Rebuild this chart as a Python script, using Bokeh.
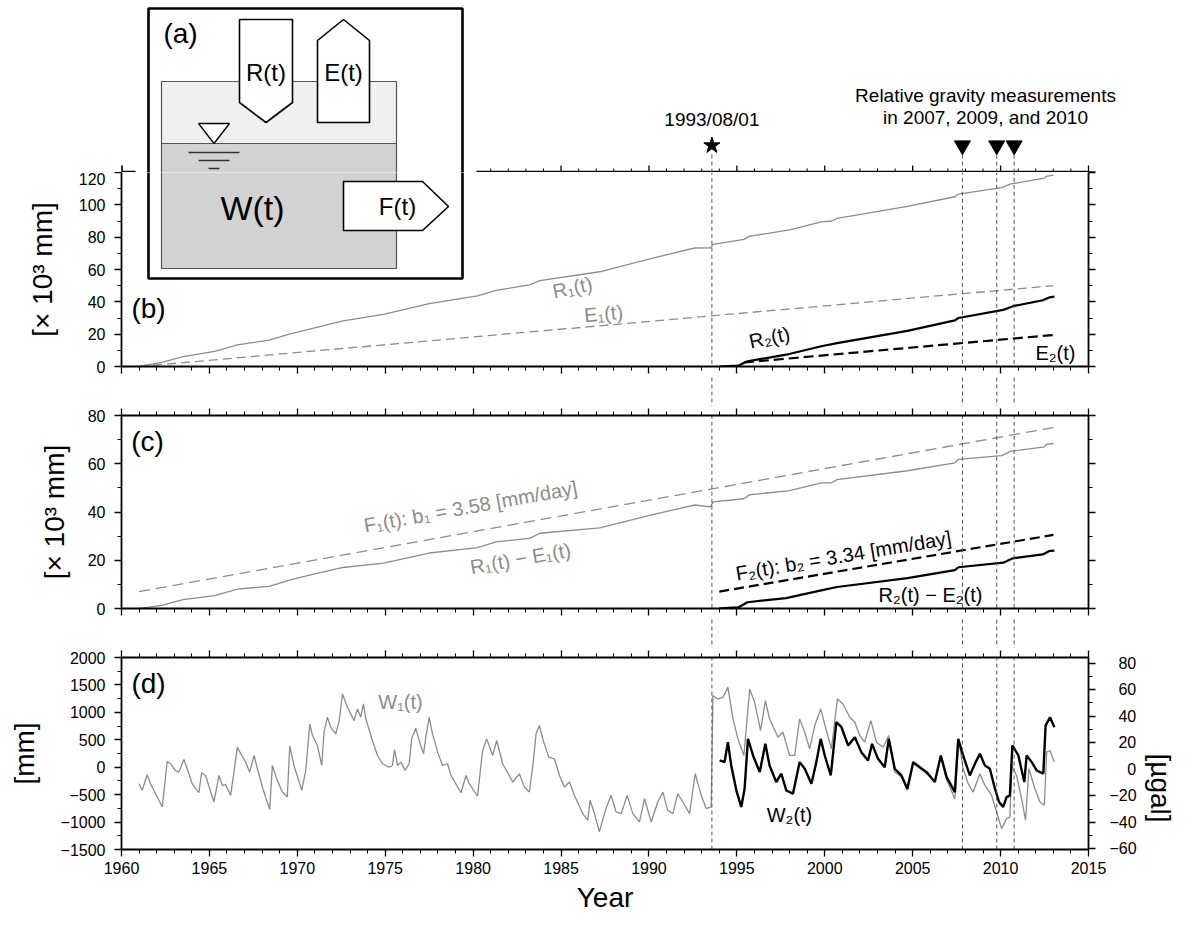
from bokeh.plotting import figure
from bokeh.layouts import column
from bokeh.models import (Range1d, LinearAxis, SingleIntervalTicker, Label,
                          CustomJSTickFormatter, BasicTickFormatter)
from bokeh.embed import file_html
from bokeh.resources import INLINE

# ------------------------------------------------------------------ data
# (b) cumulative rainfall R(t) and evapotranspiration E(t)  [x 10^3 mm]
r1_year = [1961.0, 1962.3, 1963.5, 1965.3, 1966.6, 1968.4, 1969.6, 1970.7, 1972.6, 1974.9,
           1977.5, 1980.25, 1981.3, 1983.2, 1983.8, 1987.2, 1990.1, 1992.6, 1993.5, 1993.65,
           1995.4, 1995.7, 1998.0, 1999.8, 2000.4, 2000.7, 2004.7, 2007.4, 2007.6, 2010.05,
           2010.6, 2012.5, 2012.6, 2013.0]
r1_val = [0, 2.6, 6.1, 9.4, 13.4, 16.3, 20.2, 23.1, 28.2, 32.2,
          38.9, 43.7, 47.1, 50.5, 53.1, 58.6, 66.7, 73.3, 73.4, 75.6,
          78.6, 80.5, 84.5, 89.4, 90.0, 91.6, 99.1, 105.0, 106.6, 110.6,
          112.9, 116.5, 117.6, 118.4]
e1_year = [1961.0, 2013.0]
e1_val = [0.0, 50.0]
r2_year = [1994.0, 1994.5, 1995.1, 1995.6, 1997.8, 1999.8, 2000.7, 2004.7, 2007.4, 2007.6,
           2010.15, 2010.7, 2012.4, 2012.8, 2013.06]
r2_val = [0, 0.3, 0.6, 3.2, 7.3, 12.5, 14.5, 22.0, 28.5, 30.0, 35.0, 37.3, 41.0, 42.8, 43.2]
e2_year = [1995.4, 2013.0]
e2_val = [2.5, 19.5]

# (c) R(t) - E(t) and fitted outflow F(t)  [x 10^3 mm]
re1_year = list(r1_year)
re1_val = [0, 1.3, 3.7, 5.3, 8.0, 9.2, 11.9, 13.8, 17.0, 18.8,
           23.0, 25.2, 27.6, 29.1, 31.2, 33.4, 38.7, 42.9, 42.1, 44.2,
           45.5, 47.1, 48.9, 52.1, 52.1, 53.4, 57.1, 60.4, 61.8, 63.4,
           65.2, 67.0, 68.0, 68.4]
f1_year = [1961.0, 2013.0]
f1_val = [7.0, 75.0]
re2_year = list(r2_year)
re2_val = [0, 0.3, 0.5, 2.6, 4.3, 7.5, 8.9, 12.6, 15.9, 17.1, 19.0, 20.8, 22.4, 23.9, 24.0]
f2_year = [1994.0, 2013.0]
f2_val = [7.0, 30.5]

# (d) storage W(t)  [mm]
w1_year = [1961.00, 1961.18, 1961.46, 1961.65, 1961.84, 1962.32, 1962.60, 1962.79, 1963.07, 1963.26,
           1963.55, 1963.74, 1964.02, 1964.40, 1964.56, 1964.78, 1965.26, 1965.54, 1965.73, 1965.92,
           1966.21, 1966.59, 1966.78, 1967.06, 1967.29, 1967.54, 1967.73, 1968.01, 1968.43, 1968.58,
           1968.86, 1969.15, 1969.43, 1969.57, 1969.81, 1970.25, 1970.48, 1970.71, 1970.86, 1971.14,
           1971.39, 1971.52, 1971.71, 1971.90, 1972.19, 1972.38, 1972.57, 1972.85, 1973.23, 1973.42,
           1973.61, 1973.76, 1973.90, 1974.27, 1974.56, 1974.85, 1975.22, 1975.41, 1975.53, 1975.70,
           1975.89, 1976.13, 1976.36, 1976.51, 1976.74, 1976.93, 1977.18, 1977.31, 1977.50, 1977.69,
           1977.98, 1978.26, 1978.55, 1978.74, 1979.12, 1979.31, 1979.59, 1979.78, 1980.25, 1980.54,
           1980.77, 1981.11, 1981.34, 1981.68, 1982.25, 1982.63, 1982.91, 1983.20, 1983.42, 1983.58,
           1983.77, 1983.96, 1984.30, 1984.62, 1984.91, 1985.19, 1985.48, 1985.76, 1986.23, 1986.52,
           1986.65, 1986.90, 1987.18, 1987.37, 1987.56, 1987.85, 1988.13, 1988.42, 1988.76, 1989.08,
           1989.46, 1989.75, 1990.13, 1990.50, 1990.79, 1991.07, 1991.36, 1991.64, 1991.93, 1992.31,
           1992.63, 1992.97, 1993.26, 1993.54, 1993.64, 1993.92, 1994.21, 1994.49, 1994.78, 1995.06,
           1995.40, 1995.73, 1996.01, 1996.35, 1996.62, 1996.86, 1997.34, 1997.62, 1998.00, 1998.29,
           1998.57, 1998.86, 1999.14, 1999.43, 1999.77, 2000.09, 2000.38, 2000.72, 2001.04, 2001.42,
           2001.71, 2001.99, 2002.27, 2002.62, 2002.94, 2003.32, 2003.64, 2003.98, 2004.36, 2004.70,
           2005.03, 2005.41, 2005.79, 2006.26, 2006.60, 2006.93, 2007.40, 2007.63, 2007.87, 2008.16,
           2008.44, 2008.82, 2009.11, 2009.49, 2009.77, 2010.06, 2010.34, 2010.53, 2010.63, 2010.91,
           2011.23, 2011.42, 2011.61, 2011.95, 2012.24, 2012.49, 2012.62, 2012.81, 2013.06]
w1_mm = [-300, -420, -137, -300, -420, -725, 105, 63, -60, -90,
         140, -28, -300, -465, -100, -150, -633, -150, -330, -318,
         -512, 366, 245, 93, -90, 214, -28, -360, -768, 32,
         -240, -452, -543, 384, 32, -420, -60, 790, 578, 396,
         32, 638, 911, 730, 608, 850, 1335, 1093, 850, 1062,
         911, 1153, 880, 487, 214, 63, 0, 32, 323, 32,
         93, -58, 63, 530, 711, 487, 245, 548, 911, 608,
         275, 32, 63, -150, -360, -465, -150, -300, -525, 305,
         517, 214, 487, 63, -270, -120, -360, -452, 93, 608,
         760, 517, 184, 154, -150, -360, -270, -512, -845, -966,
         -603, -845, -1180, -960, -750, -513, -816, -847, -513, -847,
         -998, -574, -998, -634, -453, -786, -847, -483, -634, -847,
         -119, -513, -756, -725, 1305, 1244, 1275, 1456, 881, 517,
         214, 1426, 1184, 669, 1214, 881, 547, 638, 214, 214,
         881, 638, 335, 759, 1062, 669, 335, 1244, 1153, 911,
         820, 578, 456, 850, 456, 365, 578, -89, -180, -420,
         60, -20, -120, -250, 180, -230, -574, 487, -28, -301,
         -453, -119, -331, -513, -816, -1119, -937, -907, 32, -150,
         -634, -968, -28, -392, -634, -695, 275, 305, 93]
w2_year = [1994.02, 1994.30, 1994.49, 1994.68, 1994.97, 1995.25, 1995.44, 1995.63, 1995.92, 1996.30,
           1996.62, 1996.86, 1997.24, 1997.53, 1997.81, 1998.19, 1998.57, 1998.86, 1999.24, 1999.52,
           1999.77, 2000.00, 2000.34, 2000.66, 2000.95, 2001.33, 2001.71, 2002.08, 2002.46, 2002.69,
           2003.03, 2003.41, 2003.64, 2003.98, 2004.36, 2004.70, 2005.03, 2005.41, 2005.79, 2006.26,
           2006.60, 2006.93, 2007.40, 2007.59, 2007.87, 2008.25, 2008.54, 2008.82, 2009.11, 2009.39,
           2009.68, 2009.91, 2010.15, 2010.34, 2010.53, 2010.67, 2011.01, 2011.35, 2011.48, 2011.77,
           2012.05, 2012.43, 2012.56, 2012.81, 2013.06]
w2_mm = [123, 93, 456, 32, -422, -725, -392, 517, 214, -89,
         426, 32, -271, -119, -422, -483, 93, -28, -301, 93,
         517, 214, -150, 820, 729, 396, 547, 275, 123, 426,
         153, 0, 517, -28, -150, -392, 93, 0, -89, -271,
         214, -180, -453, 517, 214, -150, 63, 244, 32, -28,
         -392, -634, -725, -544, -513, 396, 214, -271, 214, 93,
         -59, -119, 759, 911, 729]

# events
event_date = [1993.58]
event_text = ["1993/08/01"]
gravity_dates = [2007.83, 2009.78, 2010.77]
all_dates = event_date + gravity_dates

# ------------------------------------------------------------------ style
FONT = "Liberation Sans"
GRAY = "#8c8c8c"
DASH_C = "#555555"
FL, FR, PAGE_W = 121, 1088, 1192
XS = (FR - FL) / 55.0
X_START, X_END = 1960, 2015

blank = CustomJSTickFormatter(code="return '';")
minus_fmt = CustomJSTickFormatter(code=r"return (tick < 0 ? '\u2212' : '') + Math.abs(tick).toString();")
right_fmt = CustomJSTickFormatter(code=r"""
let s = (tick < 0 ? '\u2212' : '') + Math.abs(tick).toString();
while (s.length < 3) { s = '\u2007' + s; }
return s;""")


def xticker():
    return SingleIntervalTicker(interval=5, num_minor_ticks=5)


def style_axis(ax, show_labels, standoff=5):
    ax.axis_line_width = 1.8
    ax.axis_line_color = "black"
    ax.major_tick_line_width = 1.3
    ax.minor_tick_line_width = 1.0
    ax.major_tick_line_color = "black"
    ax.minor_tick_line_color = "black"
    ax.major_tick_out = 7
    ax.major_tick_in = 0
    ax.minor_tick_out = 4
    ax.minor_tick_in = 0
    ax.major_label_text_font = FONT
    ax.axis_label_text_font = FONT
    ax.axis_label_text_font_size = "28px"
    ax.axis_label_text_font_style = "normal"
    ax.axis_label_text_color = "black"
    if show_labels:
        ax.major_label_standoff = standoff
        ax.major_label_text_font_size = "16px"
        ax.major_label_text_color = "black"
    else:
        ax.major_label_standoff = 0
        ax.major_label_text_font_size = "1px"
        ax.major_label_text_color = None


def base_fig(fw, fh, xr, yr, bl, br, bt, bb):
    p = figure(frame_width=fw, frame_height=fh, x_range=xr, y_range=yr,
               min_border_left=bl, min_border_right=br, min_border_top=bt, min_border_bottom=bb,
               output_backend="svg", toolbar_location=None, tools="", title=None,
               x_axis_type=None, y_axis_type=None)
    p.outline_line_color = None
    p.background_fill_color = "white"
    p.border_fill_color = "white"
    return p


def make_panel(y0, y1, fh, bt, bb, py_top, py_bot, y_int, has_top, x_labels, ylab, ylab_standoff):
    p = base_fig(FR - FL, fh, Range1d(X_START, X_END), Range1d(y0, y1), FL, PAGE_W - FR, bt, bb)
    p.extra_x_ranges = {"px": Range1d(FL, FR)}
    p.extra_y_ranges = {"py": Range1d(py_bot, py_top)}
    bx = LinearAxis(ticker=xticker(), formatter=BasicTickFormatter() if x_labels else blank)
    style_axis(bx, x_labels, 5)
    if x_labels:
        bx.axis_label = "Year"
        bx.axis_label_standoff = 5
    p.add_layout(bx, "below")
    if has_top:
        tx = LinearAxis(ticker=xticker(), formatter=blank)
        style_axis(tx, False)
        p.add_layout(tx, "above")
    ly = LinearAxis(ticker=SingleIntervalTicker(interval=y_int, num_minor_ticks=2),
                    formatter=minus_fmt, axis_label=ylab)
    style_axis(ly, True, 9)
    ly.axis_label_standoff = ylab_standoff
    p.add_layout(ly, "left")
    return p


def right_axis(p, rng_name=None, labels=False, label=None):
    kw = {"y_range_name": rng_name} if rng_name else {}
    ax = LinearAxis(ticker=SingleIntervalTicker(interval=20, num_minor_ticks=2),
                    formatter=right_fmt if labels else blank, **kw)
    style_axis(ax, labels, 14)
    if label:
        ax.axis_label = label
        ax.axis_label_standoff = 21
        ax.axis_label_orientation = -1.5707963
    p.add_layout(ax, "right")


def lab(p, x, y, text, size, color="black", angle=0, xr="px", yr="py", font=FONT):
    p.add_layout(Label(x=x, y=y, text=text, text_font=font, text_font_size=size,
                       text_color=color, angle=angle, angle_units="deg",
                       text_align="center", text_baseline="middle",
                       x_range_name=xr, y_range_name=yr, level="overlay"))


def draw_inset(p):
    kw = dict(x_range_name="px", y_range_name="py")
    p.patch([135, 476, 476, 135], [0, 0, 291, 291], fill_color="white", line_color=None, **kw)
    p.patch([148, 462, 462, 148], [8, 8, 278, 278], fill_color="white", line_color="black", line_width=2.6, **kw)
    p.patch([161, 396, 396, 161], [81, 81, 143, 143], fill_color="#f0f0f0", line_color="#555555", line_width=1.2, **kw)
    p.patch([161, 396, 396, 161], [143, 143, 268, 268], fill_color="#d2d2d2", line_color="#555555", line_width=1.2, **kw)
    p.patch([239, 292, 292, 265.5, 239], [19, 19, 102, 122, 102], fill_color="white", line_color="black", line_width=1.6, **kw)
    p.patch([317, 369, 369, 343, 317], [122, 122, 40, 19, 40], fill_color="white", line_color="black", line_width=1.6, **kw)
    p.patch([343, 422, 448, 422, 343], [181, 181, 206, 230, 230], fill_color="white", line_color="black", line_width=1.6, **kw)
    p.patch([198, 229, 213.5], [123, 123, 143], fill_color="white", line_color="black", line_width=1.3, **kw)
    p.segment(x0=[188, 198, 208], y0=[152, 160, 168], x1=[239, 229, 219], y1=[152, 160, 168],
              line_color="#333333", line_width=1.3, **kw)


# ------------------------------------------------------------------ top strip (inset + event markers)
TOP_H = 172
pT = base_fig(PAGE_W - FL, TOP_H, Range1d(X_START, X_START + (PAGE_W - FL) / XS),
              Range1d(TOP_H, 0), FL, 0, 0, 0)
pT.extra_x_ranges = {"px": Range1d(FL, PAGE_W)}
pT.extra_y_ranges = {"py": Range1d(TOP_H, 0)}
# upper frame edge of panel (b): line and outward ticks (partly hidden by the inset)
major_years = list(range(X_START, X_END + 1, 5))
minor_years = [y for y in range(X_START, X_END + 1) if y % 5]
pT.segment(x0=[X_START], y0=[TOP_H - 0.9], x1=[X_END], y1=[TOP_H - 0.9], line_color="black", line_width=1.8)
pT.segment(x0=major_years, y0=[TOP_H] * len(major_years), x1=major_years, y1=[TOP_H - 7] * len(major_years),
           line_color="black", line_width=1.3)
pT.segment(x0=[X_START], y0=[TOP_H], x1=[X_START], y1=[TOP_H - 7], line_color="black", line_width=2.6)
pT.segment(x0=minor_years, y0=[TOP_H] * len(minor_years), x1=minor_years, y1=[TOP_H - 4] * len(minor_years),
           line_color="black", line_width=1.0)
pT.segment(x0=[X_END], y0=[TOP_H - 0.6], x1=[X_END + 7 / XS], y1=[TOP_H - 0.6],
           line_color="black", line_width=1.3)
draw_inset(pT)
pT.segment(x0=all_dates, y0=[154] * len(all_dates), x1=all_dates, y1=[190] * len(all_dates),
           line_color=DASH_C, line_width=1.0, line_dash="4 3")
pT.scatter(x=event_date, y=[145] * len(event_date), marker="star", size=17,
           fill_color="black", line_color="black")
pT.scatter(x=gravity_dates, y=[145] * len(gravity_dates), marker="inverted_triangle", size=16,
           fill_color="black", line_color="black")
for d, t in zip(event_date, event_text):
    lab(pT, d, 119, t, "19px", xr="default", yr="default")
lab(pT, 985, 95, "Relative gravity measurements", "19px")
lab(pT, 985, 117, "in 2007, 2009, and 2010", "19px")
lab(pT, 180, 33, "(a)", "28px")
lab(pT, 265.5, 72, "R(t)", "24px")
lab(pT, 343, 72, "E(t)", "24px")

# ------------------------------------------------------------------ panel (b)
pB = make_panel(0, 120, 194, 0, 9, 172, 366, 20, False, False, "[\u00d7 10\u00b3 mm]", 18)
right_axis(pB)
pB.line(r1_year, r1_val, line_color=GRAY, line_width=1.3)
pB.line(e1_year, e1_val, line_color=GRAY, line_width=1.3, line_dash="9 5")
pB.line(r2_year, r2_val, line_color="black", line_width=2.2)
pB.line(e2_year, e2_val, line_color="black", line_width=2.2, line_dash="10 5")
pB.segment(x0=all_dates, y0=[-20] * 4, x1=all_dates, y1=[140] * 4,
           line_color=DASH_C, line_width=1.0, line_dash="4 3")
draw_inset(pB)
lab(pB, 252, 207, "W(t)", "34px")
lab(pB, 397, 206, "F(t)", "24px")
lab(pB, 148, 308, "(b)", "28px")
lab(pB, 572, 287, "R\u2081(t)", "20px", GRAY, 11.8)
lab(pB, 603, 313, "E\u2081(t)", "20px", GRAY, 5.1)
lab(pB, 769, 337, "R\u2082(t)", "20px", "black", 12)
lab(pB, 1055, 352, "E\u2082(t)", "20px", "black", 0)


# ------------------------------------------------------------------ gap strips
def gap_fig(h):
    g = base_fig(FR - FL, h, Range1d(X_START, X_END), Range1d(0, 1), FL, PAGE_W - FR, 0, 0)
    g.segment(x0=all_dates, y0=[-1] * 4, x1=all_dates, y1=[2] * 4,
              line_color=DASH_C, line_width=1.0, line_dash="4 3")
    return g


pG1 = gap_fig(31)

# ------------------------------------------------------------------ panel (c)
pC = make_panel(0, 80, 193, 9, 9, 415, 608, 20, True, False, "[\u00d7 10\u00b3 mm]", 15)
right_axis(pC)
pC.line(f1_year, f1_val, line_color=GRAY, line_width=1.3, line_dash="11 6")
pC.line(re1_year, re1_val, line_color=GRAY, line_width=1.3)
pC.line(f2_year, f2_val, line_color="black", line_width=2.2, line_dash="10 5")
pC.line(re2_year, re2_val, line_color="black", line_width=2.2)
pC.segment(x0=all_dates, y0=[-20] * 4, x1=all_dates, y1=[100] * 4,
           line_color=DASH_C, line_width=1.0, line_dash="4 3")
lab(pC, 147, 441, "(c)", "28px")
lab(pC, 470, 506, "F\u2081(t): b\u2081 = 3.58 [mm/day]", "20px", GRAY, 10.2)
lab(pC, 520, 558, "R\u2081(t) \u2212 E\u2081(t)", "20px", GRAY, 10)
lab(pC, 843, 555, "F\u2082(t): b\u2082 = 3.34 [mm/day]", "20px", "black", 9.5)
lab(pC, 930, 594, "R\u2082(t) \u2212 E\u2082(t)", "20px", "black", 0)

pG2 = gap_fig(31)

# ------------------------------------------------------------------ panel (d)
pD = make_panel(-1500, 2000, 192, 9, 78, 657, 849, 500, True, True, "[mm]", 18)
pD.extra_y_ranges["ugal"] = Range1d(-60.5, 84.3)
right_axis(pD, "ugal", True, "[\u00b5gal]")
pD.line(w1_year, w1_mm, line_color=GRAY, line_width=1.3)
pD.line(w2_year, w2_mm, line_color="black", line_width=2.4)
pD.segment(x0=all_dates, y0=[-1500] * 4, x1=all_dates, y1=[3000] * 4,
           line_color=DASH_C, line_width=1.0, line_dash="4 3")
lab(pD, 148, 683, "(d)", "28px")
lab(pD, 400, 701, "W\u2081(t)", "20px", GRAY)
lab(pD, 789, 814, "W\u2082(t)", "20px", "black")

layout = column(pT, pB, pG1, pC, pG2, pD, spacing=0)
open("out.html", "w", encoding="utf-8").write(file_html(layout, INLINE))
